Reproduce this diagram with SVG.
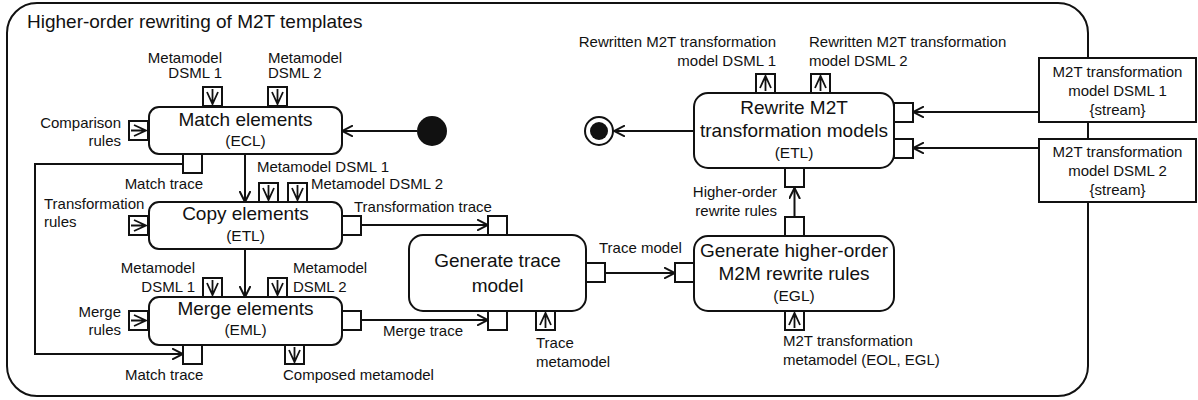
<svg xmlns="http://www.w3.org/2000/svg" xmlns:xlink="http://www.w3.org/1999/xlink" width="1198" height="400" viewBox="0 0 1198 400">
<style>
text{font-family:"Liberation Sans",Arial,sans-serif;fill:#111}
.lbl{font-size:15px}
.ttl{font-size:19px}
.sub{font-size:15.5px}
.mid{text-anchor:middle}
.end{text-anchor:end}
.frame{fill:none;stroke:#111;stroke-width:2}
.box{fill:#fff;stroke:#111;stroke-width:2}
.pin{fill:#fff;stroke:#111;stroke-width:2}
.glyph{fill:none;stroke:#111;stroke-width:1.8}
.conn{fill:none;stroke:#111;stroke-width:2;marker-end:url(#arr)}
.line{fill:none;stroke:#111;stroke-width:2}
</style>
<defs>
<marker id="arr" viewBox="0 0 12 12" refX="11" refY="6" markerWidth="12" markerHeight="12" markerUnits="userSpaceOnUse" orient="auto">
<path d="M0,0.5 L11,6 L0,11.5" fill="none" stroke="#111" stroke-width="2"/>
</marker>
<g id="pin-plain"><rect class="pin" x="0" y="0" width="19" height="19"/></g>
<g id="pin-down"><rect class="pin" x="0" y="0" width="19" height="19"/><path class="glyph" d="M9.5,2 V17 M4,5 L9.5,17 L15,5"/></g>
<g id="pin-up"><rect class="pin" x="0" y="0" width="19" height="19"/><path class="glyph" d="M9.5,17 V2 M4,14 L9.5,2 L15,14"/></g>
<g id="pin-right"><rect class="pin" x="0" y="0" width="19" height="19"/><path class="glyph" d="M2,9.5 H17 M5,4 L17,9.5 L5,15"/></g>
</defs>

<g id="frame">
<rect class="frame" x="7" y="3" width="1081" height="393" rx="30"/>
<text class="ttl" x="27" y="28">Higher-order rewriting of M2T templates</text>
</g>

<g id="connectors">
<path class="conn" d="M417,131 H342"/>
<path class="conn" d="M245,154 V202"/>
<path class="conn" d="M183,164 H35 V354 H183"/>
<path class="conn" d="M245,249 V297"/>
<path class="conn" d="M361,225 H488"/>
<path class="conn" d="M361,320 H488"/>
<path class="conn" d="M605,273 H675"/>
<path class="conn" d="M794.5,216 V188"/>
<path class="conn" d="M1039,112 H913"/>
<path class="conn" d="M1039,148 H913"/>
<path class="conn" d="M694,131 H614"/>
</g>

<g id="initial"><circle cx="432" cy="131" r="15" fill="#111"/></g>
<g id="final"><circle cx="599" cy="131" r="14" fill="#fff" stroke="#111" stroke-width="2"/><circle cx="599" cy="131" r="9" fill="#111"/></g>

<g id="match">
<rect class="box" x="149" y="107" width="193" height="47" rx="10"/>
<text class="ttl mid" x="245.5" y="126">Match elements</text>
<text class="sub mid" x="245.5" y="146">(ECL)</text>
<use href="#pin-down" x="203" y="87"/>
<use href="#pin-down" x="268" y="87"/>
<use href="#pin-right" x="129" y="121"/>
<use href="#pin-plain" x="183" y="154"/>
<text class="lbl end" x="222" y="63">Metamodel</text>
<text class="lbl end" x="222" y="78">DSML 1</text>
<text class="lbl" x="268" y="63">Metamodel</text>
<text class="lbl" x="268" y="78">DSML 2</text>
<text class="lbl end" x="121" y="128">Comparison</text>
<text class="lbl end" x="121" y="146">rules</text>
<text class="lbl end" x="203" y="189">Match trace</text>
</g>

<g id="copy">
<rect class="box" x="149" y="202" width="193" height="47" rx="10"/>
<text class="ttl mid" x="245.5" y="220">Copy elements</text>
<text class="sub mid" x="245.5" y="241">(ETL)</text>
<use href="#pin-down" x="259" y="183"/>
<use href="#pin-down" x="288" y="183"/>
<use href="#pin-right" x="129" y="216"/>
<use href="#pin-plain" x="342" y="216"/>
<text class="lbl" x="257" y="172">Metamodel DSML 1</text>
<text class="lbl" x="311" y="189">Metamodel DSML 2</text>
<text class="lbl" x="44" y="209">Transformation</text>
<text class="lbl" x="44" y="227">rules</text>
<text class="lbl" x="354" y="212">Transformation trace</text>
</g>

<g id="merge">
<rect class="box" x="149" y="297" width="193" height="48" rx="10"/>
<text class="ttl mid" x="245.5" y="315">Merge elements</text>
<text class="sub mid" x="245.5" y="335">(EML)</text>
<use href="#pin-down" x="203" y="278"/>
<use href="#pin-down" x="268" y="278"/>
<use href="#pin-right" x="129" y="311"/>
<use href="#pin-plain" x="342" y="311"/>
<use href="#pin-plain" x="183" y="345"/>
<use href="#pin-down" x="285" y="345"/>
<text class="lbl end" x="195" y="273">Metamodel</text>
<text class="lbl end" x="195" y="292">DSML 1</text>
<text class="lbl" x="293" y="273">Metamodel</text>
<text class="lbl" x="293" y="292">DSML 2</text>
<text class="lbl end" x="121" y="317">Merge</text>
<text class="lbl end" x="121" y="335">rules</text>
<text class="lbl" x="125" y="380">Match trace</text>
<text class="lbl" x="283" y="380">Composed metamodel</text>
<text class="lbl" x="383" y="336">Merge trace</text>
</g>

<g id="gentrace">
<rect class="box" x="409" y="235" width="177" height="76" rx="14"/>
<text class="ttl mid" x="497.5" y="267">Generate trace</text>
<text class="ttl mid" x="497.5" y="292">model</text>
<use href="#pin-plain" x="488" y="216"/>
<use href="#pin-plain" x="488" y="311"/>
<use href="#pin-up" x="536" y="311"/>
<use href="#pin-plain" x="586" y="263"/>
<text class="lbl" x="536" y="348">Trace</text>
<text class="lbl" x="536" y="367">metamodel</text>
<text class="lbl" x="599" y="253">Trace model</text>
</g>

<g id="genho">
<rect class="box" x="694" y="236" width="200" height="75" rx="14"/>
<text class="ttl mid" x="794" y="257">Generate higher-order</text>
<text class="ttl mid" x="794" y="280">M2M rewrite rules</text>
<text class="sub mid" x="794" y="301">(EGL)</text>
<use href="#pin-plain" x="675" y="263"/>
<use href="#pin-plain" x="785" y="217"/>
<use href="#pin-up" x="785" y="311"/>
<text class="lbl end" x="777" y="197">Higher-order</text>
<text class="lbl end" x="777" y="216">rewrite rules</text>
<text class="lbl" x="783" y="346">M2T transformation</text>
<text class="lbl" x="783" y="365">metamodel (EOL, EGL)</text>
</g>

<g id="rewrite">
<rect class="box" x="694" y="93" width="200" height="75" rx="14"/>
<text class="ttl mid" x="794" y="114">Rewrite M2T</text>
<text class="ttl mid" x="794" y="137">transformation models</text>
<text class="sub mid" x="794" y="158">(ETL)</text>
<use href="#pin-plain" x="785" y="168"/>
<use href="#pin-up" x="756" y="74"/>
<use href="#pin-up" x="811" y="74"/>
<use href="#pin-plain" x="894" y="103"/>
<use href="#pin-plain" x="894" y="139"/>
<text class="lbl end" x="776" y="47">Rewritten M2T transformation</text>
<text class="lbl end" x="776" y="66">model DSML 1</text>
<text class="lbl" x="809" y="47">Rewritten M2T transformation</text>
<text class="lbl" x="809" y="66">model DSML 2</text>
</g>

<g id="stream1">
<rect class="box" x="1039" y="58" width="157" height="64"/>
<text class="lbl mid" x="1117.5" y="77">M2T transformation</text>
<text class="lbl mid" x="1117.5" y="96">model DSML 1</text>
<text class="lbl mid" x="1117.5" y="115">{stream}</text>
</g>

<g id="stream2">
<rect class="box" x="1039" y="139" width="157" height="63"/>
<text class="lbl mid" x="1117.5" y="157">M2T transformation</text>
<text class="lbl mid" x="1117.5" y="176">model DSML 2</text>
<text class="lbl mid" x="1117.5" y="195">{stream}</text>
</g>
</svg>
